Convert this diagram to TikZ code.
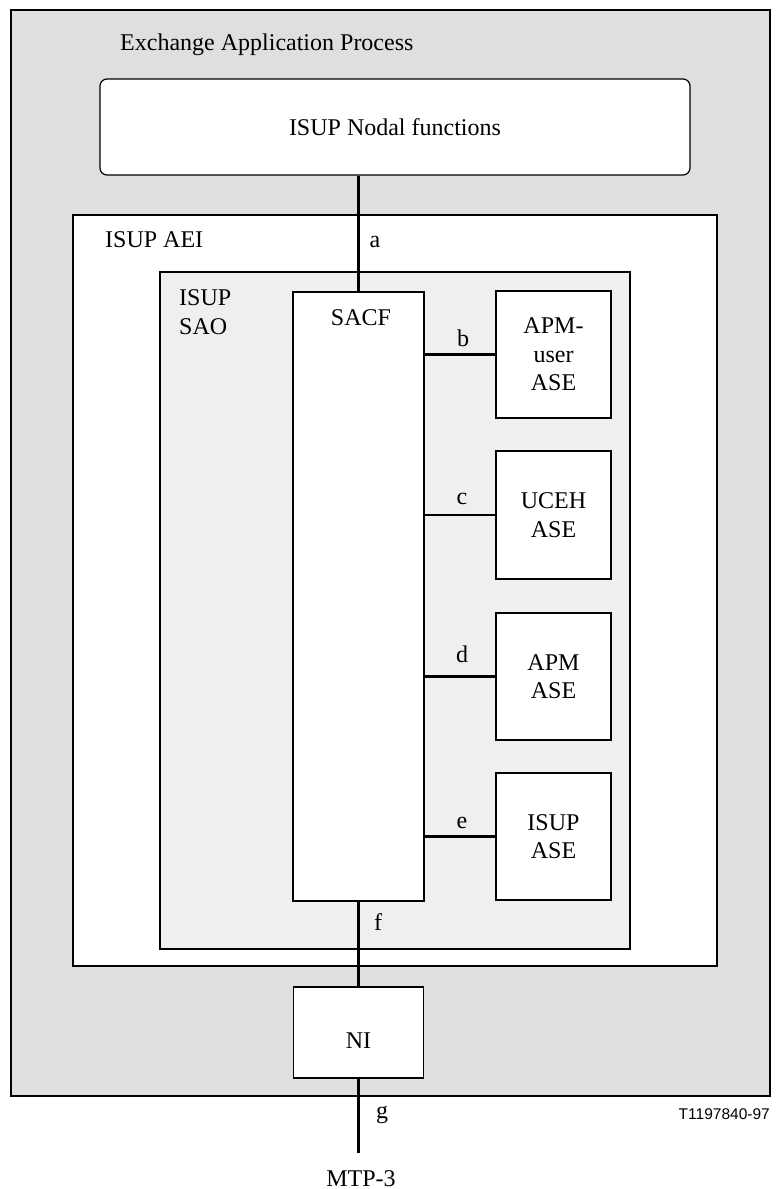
\documentclass[tikz,border=0pt]{standalone}
\usepackage{fontspec}
\setmainfont{Liberation Serif}
\newfontfamily\figsans{Liberation Sans}
\usetikzlibrary{positioning}

\definecolor{procgray}{HTML}{DFDFDF}
\definecolor{saogray}{HTML}{EFEFEF}

\begin{document}
\begin{tikzpicture}[
    x=1pt, y=-1pt,
    font=\fontsize{24}{28.5}\selectfont,
    area/.style={draw, line width=1.2pt, inner sep=0pt},
    box/.style={area, fill=white, align=center},
    asebox/.style={box, minimum width=115pt, minimum height=127pt},
    link/.style={line width=2.2pt},
    txt/.style={inner sep=0pt, anchor=base west},
    linklbl/.style={inner sep=0pt, anchor=base}
  ]
  \useasboundingbox (0,0) rectangle (778,1189);

  % nested areas
  \node[area, fill=procgray, minimum width=759pt, minimum height=1086pt] (proc) at (390.5,553) {};
  \node[txt] (proclbl) at (120,50) {Exchange Application Process};
  \node[box, rounded corners=7pt, minimum width=590pt, minimum height=96pt] (nodal) at (395,127) {ISUP Nodal functions};
  \node[area, fill=white, minimum width=644pt, minimum height=751pt] (aei) at (395,590.5) {};
  \node[txt] (aeilbl) at (105,247) {ISUP AEI};
  \node[area, fill=saogray, minimum width=470pt, minimum height=677pt] (sao) at (395,610.5) {};
  \node[txt, align=left] (saolbl) at (179,334) {ISUP\\SAO};

  % SACF and the ASEs
  \node[box, minimum width=131pt, minimum height=609pt] (sacf) at (358.5,596.5) {};
  \node[linklbl] (sacflbl) at (361,325) {SACF};
  \node[asebox] (apmuser) at (553.5,354.5) {APM-\\user\\ASE};
  \node[asebox, minimum height=128pt] (uceh) at (553.5,515) {UCEH\\ASE};
  \node[asebox] (apm) at (553.5,676.5) {APM\\ASE};
  \node[asebox] (isupase) at (553.5,836.5) {ISUP\\ASE};

  \node[box, minimum width=130pt, minimum height=91pt, text height=32pt, text depth=0pt] (ni) at (358.5,1032.5) {NI};
  \coordinate (gend) at (358.5,1153);

  % connectors
  \draw[link] (nodal.south -| sacf.north) -- (sacf.north);
  \foreach \ase in {apmuser, uceh, apm, isupase}
    \draw[link] (\ase.west -| sacf.east) -- (\ase.west);
  \draw[link] (sacf.south) -- (ni.north);
  \draw[link] (ni.south) -- (gend);

  \node[linklbl] (lbla) at (375,247) {a};
  \node[linklbl] (lblb) at (463,346) {b};
  \node[linklbl] (lblc) at (462,504) {c};
  \node[linklbl] (lbld) at (462,662) {d};
  \node[linklbl] (lble) at (462,828) {e};
  \node[linklbl] (lblf) at (378,930) {f};
  \node[linklbl] (lblg) at (382,1118) {g};

  \node[linklbl] (mtp) at (361,1186) {MTP-3};
  \node[inner sep=0pt, anchor=base east, font=\figsans\fontsize{15.5}{18}\selectfont] (figno) at (770,1119) {T1197840-97};
\end{tikzpicture}
\end{document}
